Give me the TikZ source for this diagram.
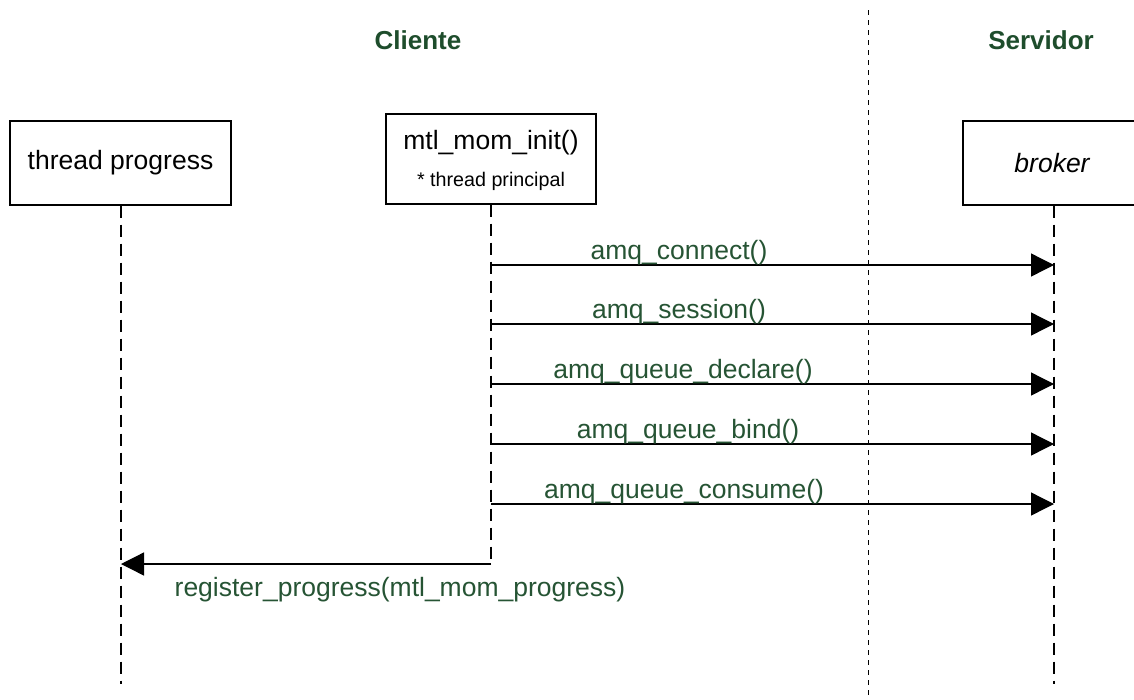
\documentclass[tikz,border=0pt]{standalone}
\usepackage{fontspec}
\setmainfont{Liberation Sans}
\usetikzlibrary{arrows.meta}
\definecolor{hdr}{RGB}{30,77,44}
\definecolor{lbl}{RGB}{38,84,52}
\begin{document}
\begin{tikzpicture}[x=1pt,y=-1pt,
  box/.style={draw=black,line width=1.4pt,fill=white,inner sep=0pt},
  big/.style={font=\fontsize{26.5}{30}\selectfont},
  header/.style={font=\fontsize{26}{30}\selectfont\bfseries,text=hdr},
  msglabel/.style={font=\fontsize{26.5}{30}\selectfont,text=lbl,anchor=base,inner sep=0pt},
  lifeline/.style={line width=1.2pt,dash pattern=on 12pt off 7pt},
  separator/.style={line width=1pt,dash pattern=on 5pt off 5pt},
  msg/.style={line width=1.3pt,-{Triangle[length=23pt,width=23pt]}}]
\useasboundingbox (0,0) rectangle (1134,699);
\clip (0,0) rectangle (1134,699);
% separator
\coordinate (septop) at (868.5,10);
\coordinate (sepbot) at (868.5,699);
\draw[separator] (septop) -- (sepbot);
% headers
\node[header] (cliente) at (418,40) {Cliente};
\node[header] (servidor) at (1041,40) {Servidor};
% boxes
\node[box,minimum width=221pt,minimum height=84pt] (tp) at (120.5,163) {};
\node[big] (tptext) at (120.5,163) {thread progress};
\node[box,minimum width=210pt,minimum height=90pt] (mtl) at (491,159) {};
\node[big] (mtltext) at (491,143) {mtl\_mom\_init()};
\node[font=\fontsize{19.7}{22}\selectfont] (mtlsub) at (491,181) {* thread principal};
\node[box,minimum width=182pt,minimum height=84pt] (brk) at (1054,163) {};
\node[font=\fontsize{26.5}{30}\selectfont\itshape] (brktext) at (1052,163) {broker};
% lifelines
\coordinate (tpend) at (121,684);
\coordinate (mtlend) at (491,564);
\coordinate (brkend) at (1054,684);
\draw[lifeline] (tp.south -| tpend) -- (tpend);
\draw[lifeline] (mtl.south) -- (mtlend);
\draw[lifeline] (brk.south -| brkend) -- (brkend);
% messages
\foreach \y/\n/\t/\x in {265/1/amq\_connect()/679,324/2/amq\_session()/679,384/3/amq\_queue\_declare()/683,444/4/amq\_queue\_bind()/688,504/5/amq\_queue\_consume()/684}{
  \coordinate (a\n) at (491,\y);
  \coordinate (b\n) at (1054,\y);
  \draw[msg] (a\n) -- (b\n);
  \node[msglabel] (l\n) at (\x,\y-5.5) {\t};
}
\coordinate (rtarget) at (121,564);
\draw[msg] (mtlend) -- (rtarget);
\node[msglabel] (rl) at (400,596) {register\_progress(mtl\_mom\_progress)};
\end{tikzpicture}
\end{document}
